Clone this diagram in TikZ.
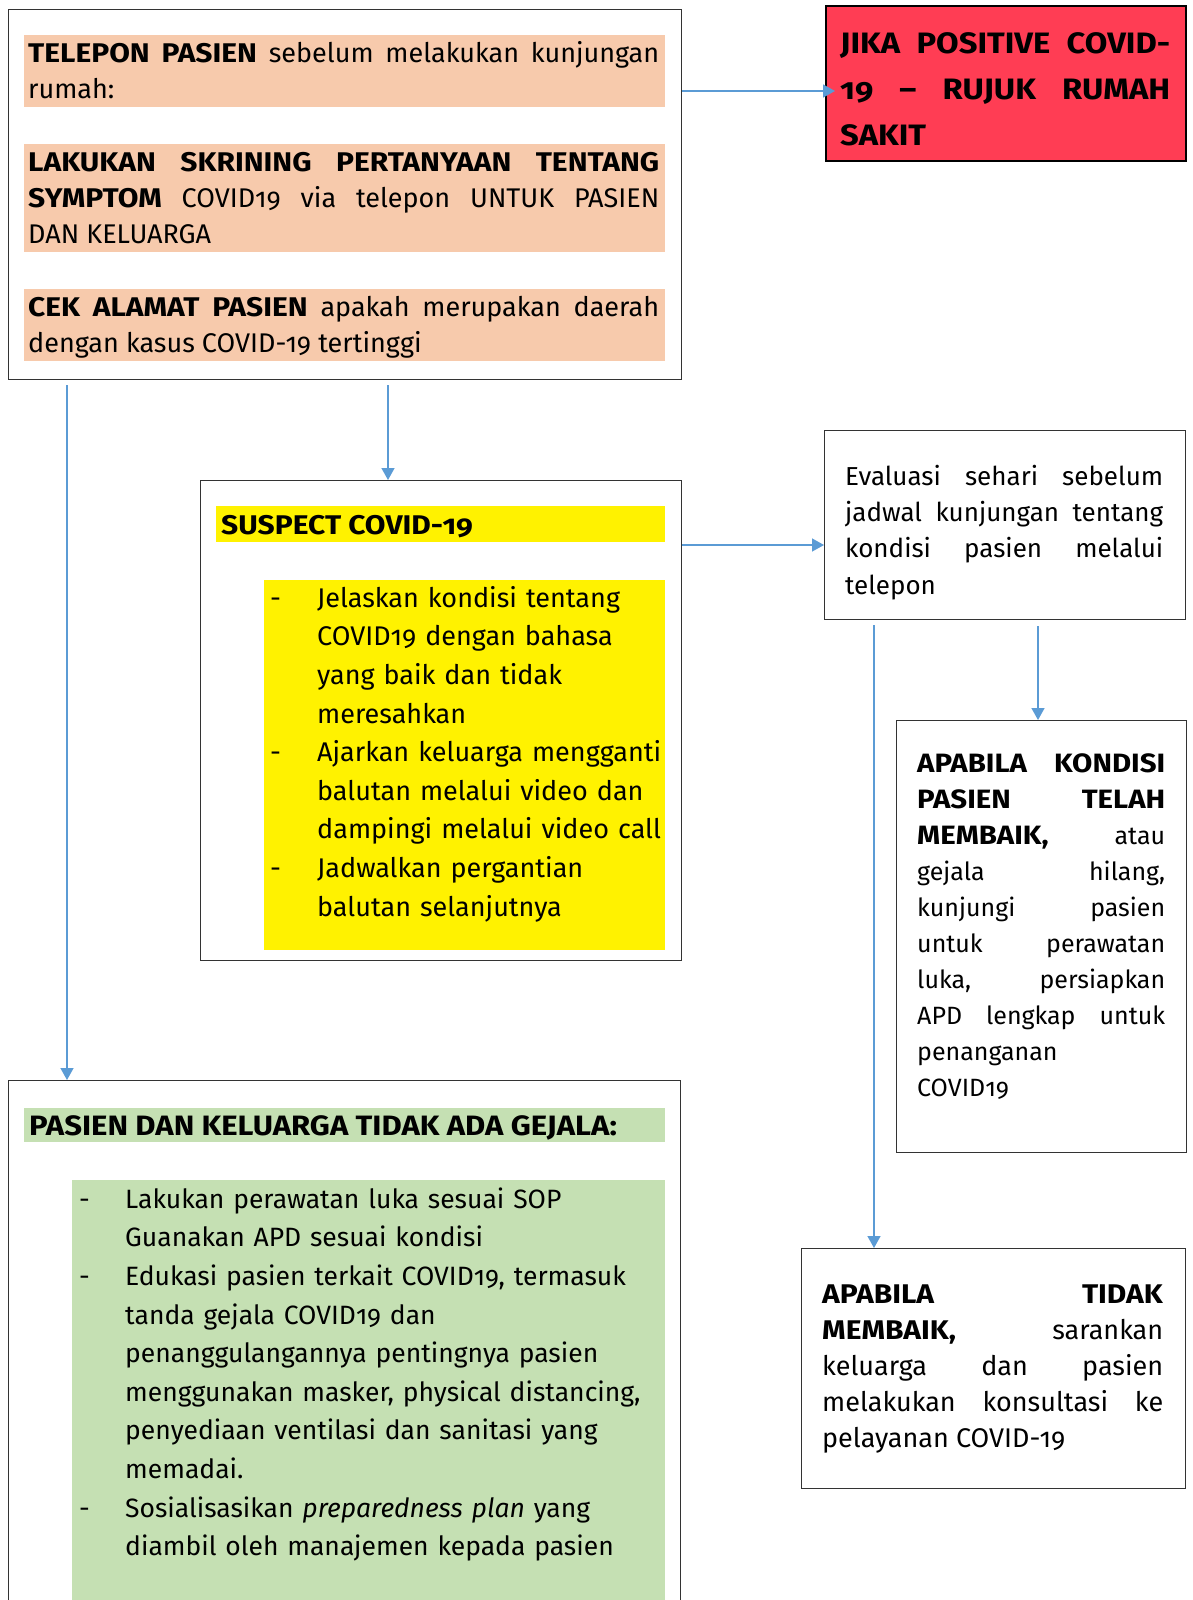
\documentclass[tikz,border=0pt]{standalone}
\usepackage{fontspec}
\setmainfont{Fira Sans}[Numbers=OldStyle, BoldFeatures={FakeStretch=1.11}]
\usetikzlibrary{arrows.meta}
\definecolor{arrblue}{HTML}{5B9BD5}
\definecolor{salmon}{HTML}{F7CAAC}
\definecolor{lgreen}{HTML}{C5E0B3}
\definecolor{redbox}{HTML}{FF3D54}
\definecolor{boxline}{HTML}{333333}
\newlength{\myhang}
\newcommand{\bulitem}[1]{\hangindent=\myhang\hangafter=1\noindent\makebox[\myhang][l]{\strut-}#1\par}
\newcommand{\bigbf}[1]{{\fontsize{26.5}{36}\selectfont\bfseries #1}}
\hbadness=10000 \vbadness=10000 \hfuzz=5pt
\hyphenpenalty=10000 \exhyphenpenalty=10000
\begin{document}
\begin{tikzpicture}[x=1pt,y=-1pt,
  box/.style={draw=boxline, line width=1.3pt, inner sep=0pt, anchor=north west, rectangle},
  band/.style={inner sep=0pt, anchor=north west, rectangle, draw=none},
  txt/.style={inner sep=0pt, anchor=north west, align=justify},
  lst/.style={inner sep=0pt, anchor=north west},
  arr/.style={draw=arrblue, line width=1.4pt, -{Triangle[width=13pt,length=12pt]}},
  fA/.style={font=\fontsize{27}{36}\selectfont},
  fL/.style={font=\fontsize{27}{38.6}\selectfont},
  fG/.style={font=\fontsize{26.5}{38.6}\selectfont},
  fR/.style={font=\fontsize{29.5}{46}\selectfont\bfseries},
  fE/.style={font=\fontsize{26}{36.3}\selectfont},
  fP/.style={font=\fontsize{25}{36}\selectfont}]
\clip (0,0) rectangle (1193,1600);
\fill[white] (0,0) rectangle (1193,1600);

% ---------- top box ----------
\node[box, minimum width=673pt, minimum height=370pt] (top) at (8,9) {};
\node[band, fill=salmon, minimum width=641pt, minimum height=72pt] (b1) at (24,35) {};
\node[band, fill=salmon, minimum width=641pt, minimum height=108pt] (b2) at (24,144) {};
\node[band, fill=salmon, minimum width=641pt, minimum height=72pt] (b3) at (24,289) {};
\node[txt, fA, text width=631pt] (t1) at (28,36.8) {\strut\textbf{TELEPON~PASIEN}~sebelum~melakukan~kunjungan\linebreak rumah:};
\node[txt, fA, text width=631pt] (t2) at (28,145.8) {\strut\textbf{LAKUKAN~SKRINING~PERTANYAAN~TENTANG}\linebreak \textbf{SYMPTOM}~COVID19~via~telepon~UNTUK~PASIEN\linebreak DAN~KELUARGA};
\node[txt, fA, text width=631pt] (t3) at (28,290.8) {\strut\textbf{CEK~ALAMAT~PASIEN}~apakah~merupakan~daerah\linebreak dengan kasus COVID-19 tertinggi};

% ---------- red box ----------
\node[box, draw=black, line width=2pt, fill=redbox, minimum width=360pt, minimum height=155pt] (red) at (825,5) {};
\node[txt, fR, text width=330pt] (tr) at (840,20.8) {\strut JIKA~POSITIVE~COVID-\linebreak 19~--~RUJUK~RUMAH\linebreak SAKIT};

% ---------- suspect box ----------
\node[box, minimum width=481pt, minimum height=480pt] (sus) at (200,480) {};
\node[band, fill=yellow, minimum width=449pt, minimum height=36pt] (ys) at (216,506) {};
\node[band, fill=yellow, minimum width=401pt, minimum height=370pt] (yl) at (264,580) {};
\node[inner sep=0pt, anchor=north west, font=\fontsize{27}{36}\selectfont\bfseries] (ts) at (221,508.8) {\strut SUSPECT COVID-19};
\node[lst, fL, text width=394pt] (tl) at (270,580) {\setlength{\myhang}{47pt}%
\bulitem{Jelaskan kondisi tentang\newline COVID19 dengan bahasa\newline yang baik dan tidak\newline meresahkan}%
\bulitem{Ajarkan keluarga mengganti\newline balutan melalui video dan\newline dampingi melalui video call}%
\bulitem{Jadwalkan pergantian\newline balutan selanjutnya}};

% ---------- evaluasi box ----------
\node[box, minimum width=361pt, minimum height=189pt] (ev) at (824,430) {};
\node[txt, fE, text width=318pt] (te) at (845,459.6) {\strut Evaluasi~sehari~sebelum\linebreak jadwal~kunjungan~tentang\linebreak kondisi~pasien~melalui\linebreak telepon};

% ---------- apabila membaik box ----------
\node[box, minimum width=290pt, minimum height=432pt] (ok) at (896,720) {};
\node[txt, fP, text width=248pt] (to) at (917,746.8) {\strut\bigbf{APABILA~KONDISI}\linebreak \bigbf{PASIEN~TELAH}\linebreak \bigbf{MEMBAIK,}~atau\linebreak gejala~hilang,\linebreak kunjungi~pasien\linebreak untuk~perawatan\linebreak luka,~persiapkan\linebreak APD~lengkap~untuk\linebreak penanganan\newline COVID19};

% ---------- apabila tidak membaik box ----------
\node[box, minimum width=384pt, minimum height=240pt] (no) at (801,1248) {};
\node[txt, fA, text width=341pt] (tn) at (822,1277.8) {\strut\textbf{APABILA~TIDAK}\linebreak \textbf{MEMBAIK,}~sarankan\linebreak keluarga~dan~pasien\linebreak melakukan~konsultasi~ke\linebreak pelayanan COVID-19};

% ---------- bottom box ----------
\node[box, minimum width=672pt, minimum height=600pt] (bot) at (8,1080) {};
\node[band, fill=lgreen, minimum width=641pt, minimum height=34pt] (gt) at (24,1108) {};
\node[band, fill=lgreen, minimum width=593pt, minimum height=430pt] (gl) at (72,1180) {};
\node[inner sep=0pt, anchor=north west, font=\fontsize{28}{36}\selectfont\bfseries] (tg) at (29,1109.8) {\strut PASIEN DAN KELUARGA TIDAK ADA GEJALA:};
\node[lst, fG, text width=585pt] (tgl) at (79,1181) {\setlength{\myhang}{46pt}%
\bulitem{Lakukan perawatan luka sesuai SOP\newline Guanakan APD sesuai kondisi}%
\bulitem{Edukasi pasien terkait COVID19, termasuk\newline tanda gejala COVID19 dan\newline penanggulangannya pentingnya pasien\newline menggunakan masker, physical distancing,\newline penyediaan ventilasi dan sanitasi yang\newline memadai.}%
\bulitem{Sosialisasikan \textit{preparedness plan} yang\newline diambil oleh manajemen kepada pasien}};

% ---------- connectors ----------
\draw[arr, shorten >=-10pt] (top.east |- 0,91) -- (red.west |- 0,91);
\draw[arr, shorten <=5pt] (top.south -| 388,0) -- (sus.north -| 388,0);
\draw[arr, shorten <=5pt] (top.south -| 67,0) -- (bot.north -| 67,0);
\draw[arr] (sus.east |- 0,545) -- (ev.west |- 0,545);
\draw[arr, shorten <=6pt] (ev.south -| 1038,0) -- (ok.north -| 1038,0);
\draw[arr, shorten <=5pt] (ev.south -| 874,0) -- (no.north -| 874,0);
\end{tikzpicture}
\end{document}
